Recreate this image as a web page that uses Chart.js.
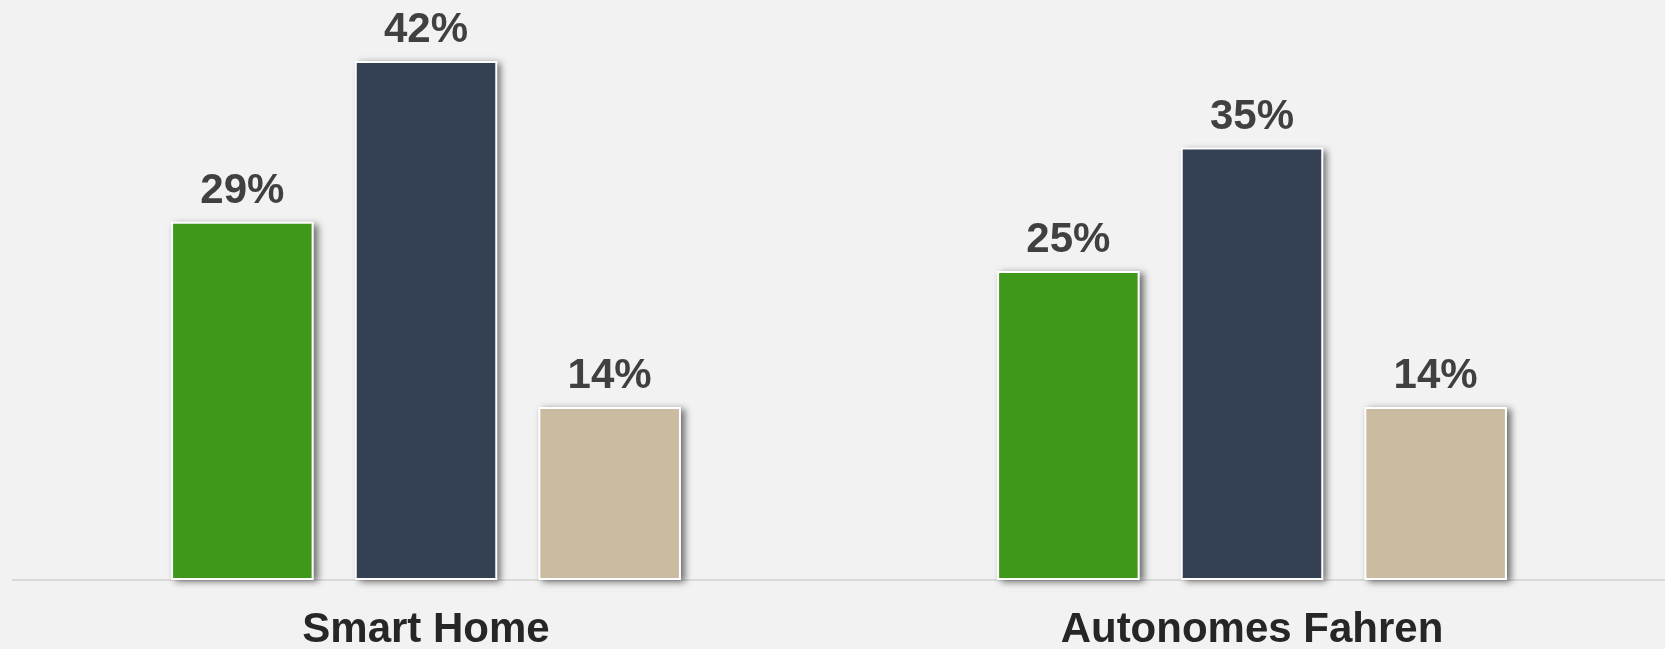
<!DOCTYPE html>
<html>
<head>
<meta charset="utf-8">
<script src="https://cdn.jsdelivr.net/npm/chart.js@4"></script>
<style>
    html, body { margin: 0; padding: 0; background: #f2f2f2; }
    #wrap { width: 1665px; height: 649px; }
</style>
</head>
<body>
<div id="wrap"><canvas id="barChart"></canvas></div>
<script>
const categories = ["Smart Home", "Autonomes Fahren"];
const seriesNames = ["Gruppe A", "Gruppe B", "Gruppe C"];
const seriesA = [29, 25];
const seriesB = [42, 35];
const seriesC = [14, 14];
const seriesColors = ["#3e9819", "#344154", "#cabba1"];

const font = "'Liberation Sans', Arial, sans-serif";

// Schatten hinter den Balken
const barShadow = {
    id: "barShadow",
    beforeDatasetsDraw(chart) {
        const ctx = chart.ctx;
        ctx.save();
        ctx.shadowColor = "rgba(0, 0, 0, 0.55)";
        ctx.shadowBlur = 7;
        ctx.shadowOffsetX = 4;
        ctx.shadowOffsetY = 2;
        ctx.fillStyle = "#f2f2f2";
        chart.data.datasets.forEach((ds, i) => {
            chart.getDatasetMeta(i).data.forEach(bar => {
                const w = bar.width;
                ctx.fillRect(bar.x - w / 2, bar.y, w, bar.base - bar.y);
            });
        });
        ctx.restore();
    }
};

// Prozentwerte über den Balken
const valueLabels = {
    id: "valueLabels",
    afterDatasetsDraw(chart) {
        const ctx = chart.ctx;
        ctx.save();
        ctx.font = "bold 42px " + font;
        ctx.fillStyle = "#404040";
        ctx.textAlign = "center";
        ctx.textBaseline = "alphabetic";
        chart.data.datasets.forEach((ds, i) => {
            chart.getDatasetMeta(i).data.forEach((bar, j) => {
                ctx.fillText(ds.data[j] + "%", bar.x, bar.y - 19);
            });
        });
        ctx.restore();
    }
};

function makeDataset(label, data, color) {
    return {
        label: label,
        data: data,
        backgroundColor: color,
        borderColor: "#ffffff",
        borderWidth: 2,
        borderSkipped: false,
        categoryPercentage: 0.667,
        barPercentage: 0.776
    };
}

const ctx = document.getElementById("barChart").getContext("2d");
new Chart(ctx, {
    type: "bar",
    data: {
        labels: categories,
        datasets: [
            makeDataset(seriesNames[0], seriesA, seriesColors[0]),
            makeDataset(seriesNames[1], seriesB, seriesColors[1]),
            makeDataset(seriesNames[2], seriesC, seriesColors[2])
        ]
    },
    options: {
        responsive: true,
        maintainAspectRatio: false,
        animation: false,
        layout: { padding: { left: 13, top: 0, right: 0, bottom: 0 } },
        plugins: {
            legend: { display: false },
            tooltip: { enabled: false }
        },
        scales: {
            x: {
                grid: { display: false, drawTicks: false },
                border: { display: true, color: "#d9d9d9", width: 2 },
                ticks: {
                    color: "#262626",
                    font: { family: font, size: 42, weight: "bold" },
                    padding: 25
                },
                afterFit(scale) { scale.height = 69; }
            },
            y: {
                display: false,
                min: 0,
                max: 46.94
            }
        }
    },
    plugins: [barShadow, valueLabels]
});
</script>
</body>
</html>
